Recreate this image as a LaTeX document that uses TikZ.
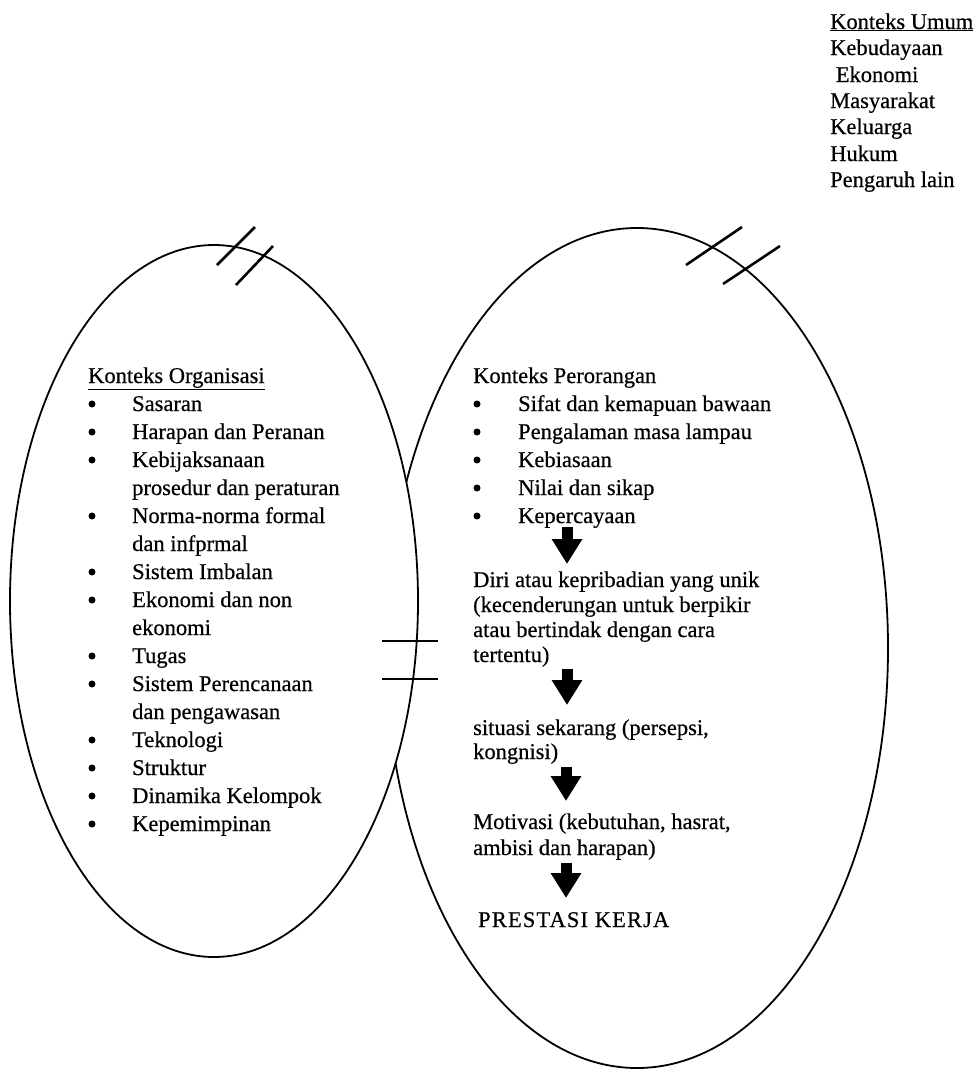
\documentclass[tikz,border=0pt]{standalone}
\usepackage{fontspec}
\setmainfont{Liberation Serif}[FakeBold=0.5]
\usetikzlibrary{arrows.meta}
\begin{document}
\begin{tikzpicture}[x=1pt,y=-1pt,
  txt/.style={anchor=base west, inner sep=0pt, font=\fontsize{22.5}{27}\selectfont},
  bul/.style={circle, fill=black, inner sep=0pt, minimum size=7pt},
  outline/.style={line width=1.8pt},
  hash/.style={line width=2.6pt},
  tick/.style={line width=1.8pt},
  blockarrow/.style={line width=11pt, -{Triangle[width=29pt,length=25pt]}}]
\useasboundingbox (0,0) rectangle (974,1071);
% ellipses
\draw[outline] (637,648) ellipse [x radius=251, y radius=420];
\draw[outline, fill=white] (214,601) ellipse [x radius=204, y radius=356];
% hash marks
\coordinate (l1a) at (217,265); \coordinate (l1b) at (255,227);
\coordinate (l2a) at (236,285); \coordinate (l2b) at (273,246);
\coordinate (r1a) at (686,265); \coordinate (r1b) at (742,227);
\coordinate (r2a) at (723,284); \coordinate (r2b) at (780,246);
\draw[hash] (l1a) -- (l1b);
\draw[hash] (l2a) -- (l2b);
\draw[hash] (r1a) -- (r1b);
\draw[hash] (r2a) -- (r2b);
% ticks
\coordinate (t1a) at (382,641); \coordinate (t1b) at (438,641);
\coordinate (t2a) at (382,679); \coordinate (t2b) at (438,679);
\draw[tick] (t1a) -- (t1b);
\draw[tick] (t2a) -- (t2b);
% Konteks Umum
\node[txt] (u0) at (830,29) {\underline{Konteks Umum}};
\node[txt] (u1) at (830,55) {Kebudayaan};
\node[txt] (u2) at (830,82) {\ Ekonomi};
\node[txt] (u3) at (830,108) {Masyarakat};
\node[txt] (u4) at (830,134) {Keluarga};
\node[txt] (u5) at (830,161) {Hukum};
\node[txt] (u6) at (830,187) {Pengaruh lain};
% Konteks Organisasi
\node[txt] (o0) at (88,383) {\underline{Konteks Organisasi}};
\foreach \i/\t in {1/Sasaran, 2/Harapan dan Peranan, 3/Kebijaksanaan, 4/prosedur dan peraturan,
  5/Norma-norma formal, 6/dan infprmal, 7/Sistem Imbalan, 8/Ekonomi dan non, 9/ekonomi,
  10/Tugas, 11/Sistem Perencanaan, 12/dan pengawasan, 13/Teknologi, 14/Struktur,
  15/Dinamika Kelompok, 16/Kepemimpinan}
  \node[txt] (o\i) at (132,{383+28*\i}) {\t};
\foreach \i in {1,2,3,5,7,8,10,11,13,14,15,16}
  \node[bul] (ob\i) at (92,{376+28*\i}) {};
% Konteks Perorangan
\node[txt] (p0) at (473,383) {Konteks Perorangan};
\foreach \i/\t in {1/Sifat dan kemapuan bawaan, 2/Pengalaman masa lampau, 3/Kebiasaan,
  4/Nilai dan sikap, 5/Kepercayaan}
  \node[txt] (p\i) at (518,{383+28*\i}) {\t};
\foreach \i in {1,...,5}
  \node[bul] (pb\i) at (477,{376+28*\i}) {};
\node[txt] (d1) at (473,587) {Diri atau kepribadian yang unik};
\node[txt] (d2) at (473,612) {(kecenderungan untuk berpikir};
\node[txt] (d3) at (473,637) {atau bertindak dengan cara};
\node[txt] (d4) at (473,662) {tertentu)};
\node[txt] (s1) at (473,735) {situasi sekarang (persepsi,};
\node[txt] (s2) at (473,759) {kongnisi)};
\node[txt] (m1) at (473,829) {Motivasi (kebutuhan, hasrat,};
\node[txt] (m2) at (473,855) {ambisi dan harapan)};
\node[txt, font=\fontsize{22.5}{27}\selectfont\addfontfeature{LetterSpace=5}] (k1) at (478,927) {PRESTASI KERJA};
% block arrows
\coordinate (a1s) at (567,527); \coordinate (a1e) at (567,564);
\coordinate (a2s) at (567,669); \coordinate (a2e) at (567,705);
\coordinate (a3s) at (566,767); \coordinate (a3e) at (566,801);
\coordinate (a4s) at (566,863); \coordinate (a4e) at (566,898);
\draw[blockarrow] (a1s) -- (a1e);
\draw[blockarrow] (a2s) -- (a2e);
\draw[blockarrow] (a3s) -- (a3e);
\draw[blockarrow] (a4s) -- (a4e);
\end{tikzpicture}
\end{document}
